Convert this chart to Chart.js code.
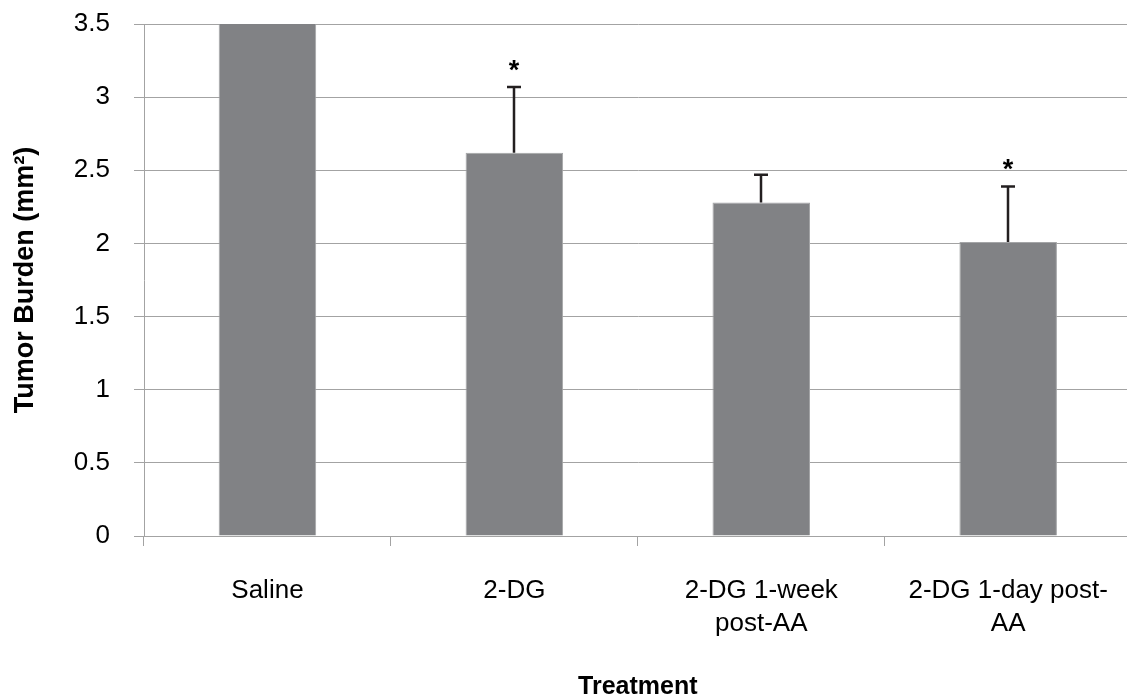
<!DOCTYPE html>
<html>
<head>
<meta charset="utf-8">
<script src="https://cdn.jsdelivr.net/npm/chart.js@4"></script>
<style>
  html, body { margin: 0; padding: 0; background: #fff; overflow: hidden; }
  #wrap { width: 1137px; height: 700px; }
</style>
</head>
<body>
<div id="wrap"><canvas id="tumorChart" width="1137" height="700"></canvas></div>
<script>
// values
const categories = ['Saline', '2-DG', ['2-DG 1-week', 'post-AA'], ['2-DG 1-day post-', 'AA']];
const burden = [3.9, 2.62, 2.28, 2.01];
const errPlus = [null, 0.45, 0.19, 0.38];
const significant = [false, true, false, true];
const yTicks = [0, 0.5, 1, 1.5, 2, 2.5, 3, 3.5];

const FONT = "'Liberation Sans', Arial, sans-serif";
const gridGray = '#a3a3a3';

const errorBars = {
    id: 'errorBars',
    afterDatasetsDraw(chart) {
        const ctx = chart.ctx;
        const meta = chart.getDatasetMeta(0);
        const y = chart.scales.y;
        ctx.save();
        ctx.strokeStyle = '#231f20';
        ctx.fillStyle = '#000';
        ctx.lineWidth = 2.5;
        meta.data.forEach(function(bar, i) {
            if (errPlus[i] == null) return;
            const x = Math.round(bar.x);
            const yBase = y.getPixelForValue(burden[i]);
            const yTop = y.getPixelForValue(burden[i] + errPlus[i]);
            ctx.beginPath();
            ctx.moveTo(x, yBase);
            ctx.lineTo(x, yTop);
            ctx.moveTo(x - 7, yTop);
            ctx.lineTo(x + 7, yTop);
            ctx.stroke();
            if (significant[i]) {
                ctx.font = 'bold 27px ' + FONT;
                ctx.textAlign = 'center';
                ctx.textBaseline = 'alphabetic';
                ctx.fillText('*', x, yTop - 8);
            }
        });
        ctx.restore();
    }
};

const ctx = document.getElementById('tumorChart').getContext('2d');
const chart = new Chart(ctx, {
    type: 'bar',
    data: {
        labels: categories,
        datasets: [{
            data: burden,
            backgroundColor: '#818285',
            borderColor: '#a4a5a7',
            borderWidth: 1,
            categoryPercentage: 1,
            barPercentage: 0.395
        }]
    },
    options: {
        responsive: false,
        animation: false,
        layout: { padding: { top: 24, right: 1, bottom: 0, left: 0 } },
        plugins: {
            legend: { display: false },
            tooltip: { enabled: false }
        },
        scales: {
            x: {
                grid: {
                    drawOnChartArea: false,
                    drawTicks: true,
                    tickLength: 10,
                    color: gridGray
                },
                border: { color: gridGray, width: 1 },
                ticks: {
                    color: '#000',
                    padding: 29,
                    maxRotation: 0,
                    autoSkip: false,
                    font: { family: FONT, size: 26, lineHeight: 1.25 }
                },
                title: {
                    display: true,
                    text: 'Treatment',
                    color: '#000',
                    padding: { top: 0, bottom: 0 },
                    font: { family: FONT, size: 25, weight: 'bold', lineHeight: 1.0 }
                },
                afterFit: function(scale) { scale.height = 164; }
            },
            y: {
                min: 0,
                max: 3.5,
                afterBuildTicks: function(scale) {
                    scale.ticks = yTicks.map(v => ({ value: v }));
                },
                grid: {
                    color: gridGray,
                    tickLength: 10,
                    lineWidth: 1
                },
                border: { color: gridGray, width: 1 },
                ticks: {
                    color: '#000',
                    padding: 24,
                    font: { family: FONT, size: 26 },
                    callback: function(v) { return String(v); }
                },
                title: {
                    display: true,
                    text: 'Tumor Burden (mm²)',
                    color: '#000',
                    padding: { top: 9, bottom: 0 },
                    font: { family: FONT, size: 27, weight: 'bold', lineHeight: 1.2 }
                },
                afterFit: function(scale) {
                    scale.width = 144;
                    scale.paddingTop = 0;
                    scale.paddingBottom = 0;
                }
            }
        }
    },
    plugins: [errorBars]
});
</script>
</body>
</html>
